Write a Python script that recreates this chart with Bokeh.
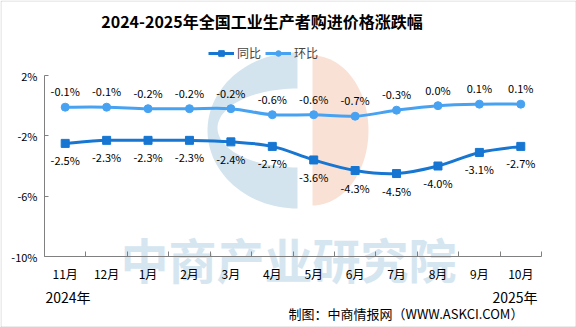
import numpy as np
from bokeh.plotting import figure
from bokeh.models import (FixedTicker, Label, Legend, LegendItem,
                          PrintfTickFormatter, PolyAnnotation, Range1d)
from bokeh.core.properties import value
from bokeh.embed import file_html
from bokeh.resources import INLINE

# ---------------- data ----------------
months = ["11月", "12月", "1月", "2月", "3月", "4月", "5月", "6月", "7月", "8月", "9月", "10月"]
yoy = [-2.5, -2.3, -2.3, -2.3, -2.4, -2.7, -3.6, -4.3, -4.5, -4.0, -3.1, -2.7]   # 同比
mom = [-0.1, -0.1, -0.2, -0.2, -0.2, -0.6, -0.6, -0.7, -0.3, 0.0, 0.1, 0.1]     # 环比
y_ticks = [2, -2, -6, -10]
series_names = ["同比", "环比"]
title_text = "2024-2025年全国工业生产者购进价格涨跌幅"
year_start = "2024年"
year_end = "2025年"
source_note = "制图：中商情报网（WWW.ASKCI.COM）"
watermark_text = "中商产业研究院"

# ---------------- layout / style ----------------
W, H = 576, 327
AX_L, AX_R, AX_B, AX_T = 44, 541, 256, 75   # canvas px of the axes box
Y_MIN, Y_AXIS_MAX = -10, 2
n = len(months)
X_LO, X_HI = -0.5, n - 0.5
ppu_x = (AX_R - AX_L) / (X_HI - X_LO)
ppu_y = (AX_B - AX_T) / (Y_AXIS_MAX - Y_MIN)
# the frame covers the whole canvas; ranges extended accordingly
XR0 = X_LO - AX_L / ppu_x
XR1 = X_HI + (W - AX_R) / ppu_x
YR1 = Y_AXIS_MAX + AX_T / ppu_y
YR0 = Y_MIN - (H - AX_B) / ppu_y

FONT = "Noto Sans CJK SC"
C_YOY = "#1676D2"
C_MOM = "#48A2F2"
AXIS_C = "#808080"


def dx(px):
    return XR0 + px / ppu_x


def dy(py):
    return YR1 - py / ppu_y


p = figure(width=W, height=H, x_range=Range1d(XR0, XR1), y_range=Range1d(YR0, YR1),
           output_backend="svg", toolbar_location=None, title_location=None,
           min_border_left=0, min_border_right=0, min_border_top=0, min_border_bottom=0)
p.outline_line_color = None
p.xgrid.visible = False
p.ygrid.visible = False
p.background_fill_color = "white"
p.border_fill_color = "white"

# ---------------- watermark ----------------
t_left = np.linspace(np.pi / 2, 3 * np.pi / 2, 60)
t_in = np.linspace(3 * np.pi / 2, np.pi / 2, 60)
cx, cy = dx(297), dy(130)
rx, ry = 90 / ppu_x, 78 / ppu_y
icy = dy(127.5)
irx, iry = 80 / ppu_x, 39.5 / ppu_y
xs_c = np.r_[cx + rx * np.cos(t_left), cx + irx * np.cos(t_in)]
ys_c = np.r_[cy + ry * np.sin(t_left), icy + iry * np.sin(t_in)]
p.patch(xs_c, ys_c, fill_color="#D3E4EF", line_color=None)

t_right = np.linspace(-np.pi / 2, np.pi / 2, 60)
pcx, pcy = dx(312), dy(130)
prx, pry = 56 / ppu_x, 75 / ppu_y
p.patch(pcx + prx * np.cos(t_right), pcy + pry * np.sin(t_right),
        fill_color="#FAE1D6", line_color=None)

p.add_layout(Label(x=dx(288), y=dy(257), text=watermark_text, text_align="center",
                   text_baseline="middle", text_font=FONT, text_font_size="48px",
                   text_font_style="bold", text_color="#D5E6F1", level="underlay"))


# ---------------- lines (smooth) ----------------
def smooth_segments(xv, yv, t=0.18):
    x = np.asarray(xv, float)
    y = np.asarray(yv, float)
    xp = np.r_[x[0], x, x[-1]]
    yp = np.r_[y[0], y, y[-1]]
    m = len(x)
    c0x = x[:-1] + (xp[2:m + 1] - xp[0:m - 1]) * t
    c0y = y[:-1] + (yp[2:m + 1] - yp[0:m - 1]) * t
    c1x = x[1:] - (xp[3:m + 2] - xp[1:m]) * t
    c1y = y[1:] - (yp[3:m + 2] - yp[1:m]) * t
    return dict(x0=x[:-1], y0=y[:-1], x1=x[1:], y1=y[1:], cx0=c0x, cy0=c0y, cx1=c1x, cy1=c1y)


xs = list(range(n))
p.bezier(**smooth_segments(xs, yoy), line_color=C_YOY, line_width=3)
p.bezier(**smooth_segments(xs, mom), line_color=C_MOM, line_width=3)
sq = p.scatter(xs, yoy, marker="square", size=8, fill_color=C_YOY, line_color=C_YOY)
ci = p.scatter(xs, mom, marker="circle", size=8, fill_color=C_MOM, line_color=C_MOM)
# single-point lines: draw nothing on the plot, give the legend its line sample
leg_l1 = p.line(x=xs[:1], y=yoy[:1], line_color=C_YOY, line_width=3)
leg_l2 = p.line(x=xs[:1], y=mom[:1], line_color=C_MOM, line_width=3)

p.text(xs, yoy, text=[f"{v:.1f}%" for v in yoy], y_offset=17, text_align="center",
       text_baseline="middle", text_font=value(FONT), text_font_size="11px", text_color="black")
p.text(xs, mom, text=[f"{v:.1f}%" for v in mom], y_offset=-16, text_align="center",
       text_baseline="middle", text_font=value(FONT), text_font_size="11px", text_color="black")

# ---------------- axes ----------------
xa = p.xaxis[0]
xa.fixed_location = Y_MIN
xa.bounds = (X_LO, X_HI)
xa.ticker = FixedTicker(ticks=xs, minor_ticks=[i - 0.5 for i in range(n + 1)])
xa.major_label_overrides = {i: m for i, m in enumerate(months)}
xa.major_tick_in = 0
xa.major_tick_out = 0
xa.minor_tick_in = 5
xa.minor_tick_out = 0
xa.minor_tick_line_color = AXIS_C
xa.axis_line_color = AXIS_C
xa.major_label_standoff = 8
xa.major_label_text_font = FONT
xa.major_label_text_font_size = "12px"
xa.major_label_text_color = "black"

ya = p.yaxis[0]
ya.fixed_location = X_LO
ya.bounds = (Y_MIN, Y_AXIS_MAX)
ya.ticker = FixedTicker(ticks=y_ticks, minor_ticks=[])
ya.formatter = PrintfTickFormatter(format="%d%%")
ya.major_tick_in = 4
ya.major_tick_out = 0
ya.minor_tick_in = 0
ya.minor_tick_out = 0
ya.major_tick_line_color = AXIS_C
ya.axis_line_color = AXIS_C
ya.major_label_standoff = 7
ya.major_label_text_font = FONT
ya.major_label_text_font_size = "11px"
ya.major_label_text_color = "black"

# ---------------- legend ----------------
legend = Legend(items=[LegendItem(label=series_names[0], renderers=[leg_l1, sq]),
                       LegendItem(label=series_names[1], renderers=[leg_l2, ci])],
                location=(208, H - 61), orientation="horizontal",
                glyph_width=26, glyph_height=14, label_standoff=3, spacing=4,
                padding=0, margin=0, border_line_color=None, background_fill_alpha=0,
                label_text_font=FONT, label_text_font_size="12px", label_height=14)
p.add_layout(legend)

# ---------------- texts ----------------
p.add_layout(Label(x=dx(261.5), y=dy(20), text=title_text, text_align="center",
                   text_baseline="middle", text_font=FONT, text_font_size="16px",
                   text_font_style="bold", text_color="black"))
p.add_layout(Label(x=dx(45), y=dy(296), text=year_start, text_align="left",
                   text_baseline="middle", text_font=FONT, text_font_size="14px",
                   text_color="black"))
p.add_layout(Label(x=dx(537), y=dy(296), text=year_end, text_align="right",
                   text_baseline="middle", text_font=FONT, text_font_size="14px",
                   text_color="black"))
p.add_layout(Label(x=dx(288), y=dy(313), text=source_note, text_align="left",
                   text_baseline="middle", text_font=FONT, text_font_size="13px",
                   text_color="black"))

# outer border
p.add_layout(PolyAnnotation(xs=[dx(0.5), dx(W - 0.5), dx(W - 0.5), dx(0.5)],
                            ys=[dy(0.5), dy(0.5), dy(H - 0.5), dy(H - 0.5)],
                            fill_alpha=0, line_color="#808080", line_width=1))

open("out.html", "w").write(file_html(p, INLINE))
